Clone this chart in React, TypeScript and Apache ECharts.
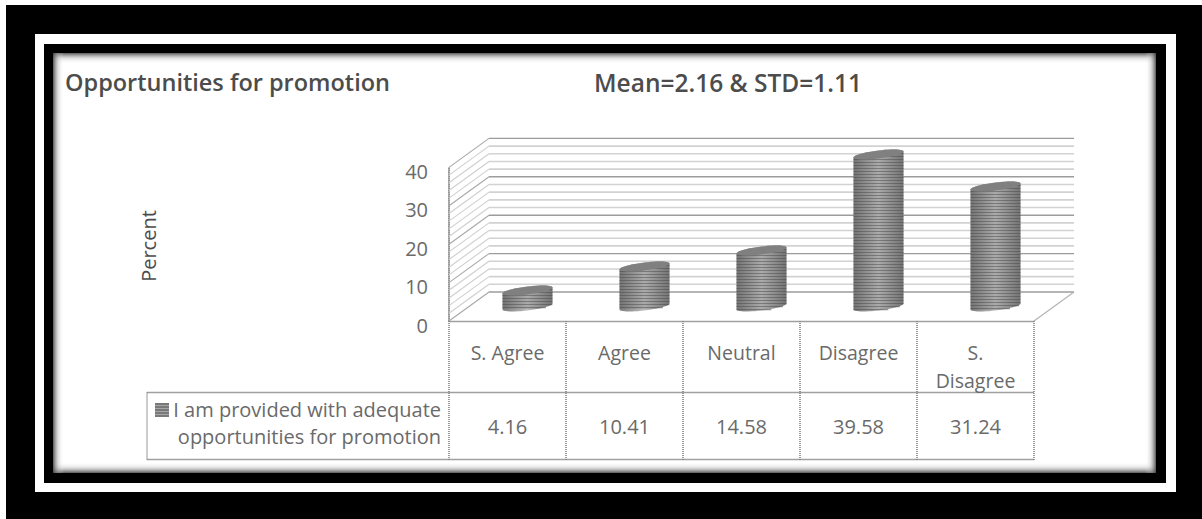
import React, { useEffect, useRef } from "react";
import * as echarts from "echarts";

const categories = ["S. Agree", "Agree", "Neutral", "Disagree", "S.\nDisagree"];
const percentValues = [4.16, 10.41, 14.58, 39.58, 31.24];
const tableLabels = ["4.16", "10.41", "14.58", "39.58", "31.24"];
const wallTicks = [0, 2, 4, 6, 8, 10, 12, 14, 16, 18, 20, 22, 24, 26, 28, 30, 32, 34, 36, 38, 40];
const seriesName = "I am provided with adequate opportunities for promotion";
const legendLines = ["I am provided with adequate", "opportunities for promotion"];
const chartTitle = "Opportunities for promotion";
const statsTitle = "Mean=2.16 & STD=1.11";
const axisTitle = "Percent";

const FONT = "'Open Sans', Lato, sans-serif";
const TEXT = "#6a6a6a";
const DEPTH_X = 20;
const DEPTH_Y = 14.5;

// Wall and floor of the pseudo-3D box, one item per tick of the value axis.
function renderWall(params: any, api: any) {
  const v = api.value(0);
  const y = api.coord([0, v])[1];
  const cs = params.coordSys;
  const left = cs.x;
  const right = cs.x + cs.width;
  const major = v % 10 === 0;
  const color = major ? "#9c9c9c" : "#d2d2d2";
  const lineWidth = major ? 1.4 : 1.6;
  const children: any[] = [
    {
      type: "line",
      shape: { x1: left - DEPTH_X, y1: y + DEPTH_Y, x2: left + DEPTH_X, y2: y - DEPTH_Y },
      style: { stroke: major ? "#a8a8a8" : "#cfcfcf", lineWidth: 1.1 },
    },
    {
      type: "line",
      shape: { x1: left + DEPTH_X, y1: y - DEPTH_Y, x2: right + DEPTH_X, y2: y - DEPTH_Y },
      style: { stroke: color, lineWidth },
    },
  ];
  if (v === 0) {
    children.push({
      type: "line",
      shape: { x1: right - DEPTH_X, y1: y + DEPTH_Y, x2: right + DEPTH_X, y2: y - DEPTH_Y },
      style: { stroke: "#b4b4b4", lineWidth: 1.2 },
    });
  }
  return { type: "group", children };
}

// Tilted ellipse outline used for the cylinder caps.
function capPoint(cx: number, cy: number, t: number, rx: number) {
  return [cx + rx * Math.cos(t), cy - 3 * Math.cos(t) - 4 * Math.sin(t)];
}

function renderCylinder(_params: any, api: any) {
  const base = api.coord([api.value(0), 0]);
  const top = api.coord([api.value(0), api.value(1)]);
  const cx = base[0];
  const rx = 25;
  const outline: number[][] = [];
  const steps = 24;
  // Upper rim from the right edge round to the left, then lower rim back again.
  for (let i = 0; i <= steps; i++) outline.push(capPoint(cx, top[1], (Math.PI * i) / steps, rx));
  for (let i = 0; i <= steps; i++) outline.push(capPoint(cx, base[1], Math.PI + (Math.PI * i) / steps, rx));
  const rim: number[][] = [];
  for (let i = 0; i <= steps * 2; i++) rim.push(capPoint(cx, top[1], (Math.PI * i) / steps, rx));

  const children: any[] = [
    {
      type: "polygon",
      shape: { points: outline },
      style: {
        fill: new echarts.graphic.LinearGradient(0, 0, 1, 0, [
          { offset: 0, color: "#7c7c7c" },
          { offset: 0.5, color: "#bcbcbc" },
          { offset: 1, color: "#7c7c7c" },
        ]),
      },
    },
  ];
  // Horizontal hatching of the pattern fill, clipped to the silhouette by hand.
  const firstY = Math.ceil(top[1] - 5);
  for (let y = firstY; y <= base[1] + 3; y += 3) {
    const xs = outline
      .map((p, i) => {
        const q = outline[(i + 1) % outline.length];
        if ((p[1] <= y && q[1] > y) || (q[1] <= y && p[1] > y)) {
          return p[0] + ((y - p[1]) / (q[1] - p[1])) * (q[0] - p[0]);
        }
        return null;
      })
      .filter((x) => x !== null) as number[];
    if (xs.length < 2) continue;
    children.push({
      type: "line",
      shape: { x1: Math.min(...xs), y1: y + 0.5, x2: Math.max(...xs), y2: y + 0.5 },
      style: { stroke: "rgba(70,70,70,0.55)", lineWidth: 1.4 },
    });
  }
  children.push({
    type: "polygon",
    shape: { points: rim },
    style: { fill: "#808080" },
  });
  return { type: "group", children };
}

// Soft shaded rim on the inside of the panel.
function shadeGradient(x1: number, y1: number, x2: number, y2: number) {
  return new echarts.graphic.LinearGradient(x1, y1, x2, y2, [
    { offset: 0, color: "rgba(60,60,60,0.85)" },
    { offset: 0.5, color: "rgba(170,170,170,0.35)" },
    { offset: 1, color: "rgba(255,255,255,0)" },
  ]);
}

function frameElements() {
  const rect = (x: number, y: number, width: number, height: number, fill: any) => ({
    type: "rect",
    silent: true,
    shape: { x, y, width, height },
    style: { fill },
  });
  return [
    rect(6, 5, 1196, 514, "#000000"),
    rect(35, 34, 1141, 458, "#ffffff"),
    rect(44, 44, 1122, 439, "#000000"),
    rect(53, 53, 1103, 420, "#ffffff"),
    rect(53, 53, 1103, 11, shadeGradient(0, 0, 0, 1)),
    rect(53, 462, 1103, 11, shadeGradient(0, 1, 0, 0)),
    rect(53, 53, 11, 420, shadeGradient(0, 0, 1, 0)),
    rect(1145, 53, 11, 420, shadeGradient(1, 0, 0, 0)),
  ];
}

function tableElements() {
  const line = (x1: number, y1: number, x2: number, y2: number, dotted = false, stroke = "#a0a0a0") => ({
    type: "line",
    silent: true,
    shape: { x1, y1, x2, y2 },
    style: { stroke: dotted ? "#808080" : stroke, lineWidth: dotted ? 1.6 : 1.4, lineDash: dotted ? [1, 1] : undefined },
  });
  const swatch: any[] = [{ type: "rect", silent: true, shape: { x: 155, y: 403, width: 14, height: 14 }, style: { fill: "#a6a6a6" } }];
  [0, 1, 2, 3, 4].forEach((i) => swatch.push(line(155, 404 + i * 3, 169, 404 + i * 3, false, "#666666")));
  return [
    line(147, 392.5, 1034, 392.5),
    line(147, 459.5, 1034, 459.5),
    line(147, 392.5, 147, 459.5, true),
    ...swatch,
    ...legendLines.map((text, i) => ({
      type: "text",
      silent: true,
      style: { x: 441, y: 409 + i * 27.5, text, font: `20px ${FONT}`, fill: TEXT, textAlign: "right", textVerticalAlign: "middle" },
    })),
  ];
}

function headingElements() {
  const heading = (x: number, text: string, size: number) => ({
    type: "text",
    silent: true,
    style: { x, y: 82, text, font: `600 ${size}px ${FONT}`, fill: "#4c4c4c", textVerticalAlign: "middle" },
  });
  return [
    heading(65, chartTitle, 23.5),
    heading(594, statsTitle, 24.5),
    {
      type: "text",
      silent: true,
      x: 148,
      y: 246,
      rotation: Math.PI / 2,
      style: { text: axisTitle, font: `20px ${FONT}`, fill: "#4c4c4c", textAlign: "center", textVerticalAlign: "middle" },
    },
  ];
}

export default function App() {
  const ref = useRef<HTMLDivElement>(null);

  useEffect(() => {
    document.body.style.margin = "0";
    const chart = echarts.init(ref.current!, undefined, { renderer: "svg" });
    chart.setOption({
      animation: false,
      backgroundColor: "#ffffff",
      textStyle: { fontFamily: FONT },
      grid: [
        // Plane through the middle of the box, on which the cylinders stand.
        { left: 469, width: 585, top: 152.9, height: 153.6 },
        // Front plane: axis labels and the data table hang off this one.
        { left: 449, width: 585, top: 167.4, height: 153.6 },
      ],
      xAxis: [
        { type: "category", gridIndex: 0, data: categories, show: false },
        {
          type: "category",
          gridIndex: 1,
          data: categories,
          axisLine: { show: true, lineStyle: { color: "#a0a0a0", width: 1.4 } },
          axisTick: { show: true, alignWithLabel: false, interval: 0, length: 139, lineStyle: { color: "#808080", type: [1, 1], width: 1.6 } },
          axisLabel: { color: TEXT, fontSize: 19.5, fontFamily: FONT, margin: 17, lineHeight: 28, interval: 0, verticalAlign: "top" },
        },
        {
          type: "category",
          gridIndex: 1,
          position: "bottom",
          offset: 71,
          data: tableLabels,
          axisLine: { show: false },
          axisTick: { show: false },
          axisLabel: { color: TEXT, fontSize: 20, fontFamily: FONT, margin: 24, interval: 0 },
        },
      ],
      yAxis: [
        { type: "value", gridIndex: 0, min: 0, max: 40, show: false },
        {
          type: "value",
          gridIndex: 1,
          min: 0,
          max: 40,
          interval: 10,
          axisLine: { show: true, onZero: false, lineStyle: { color: "#808080", type: [1, 1], width: 1.6 } },
          axisTick: { show: false },
          splitLine: { show: false },
          axisLabel: { color: TEXT, fontSize: 20, fontFamily: FONT, margin: 21, verticalAlign: "top", lineHeight: 8 },
        },
      ],
      series: [
        {
          type: "custom",
          name: "wall",
          xAxisIndex: 0,
          yAxisIndex: 0,
          silent: true,
          clip: false,
          renderItem: renderWall,
          data: wallTicks.map((v) => [v]),
          encode: { y: 0 },
          z: 1,
        },
        {
          type: "custom",
          name: seriesName,
          xAxisIndex: 0,
          yAxisIndex: 0,
          silent: true,
          clip: false,
          renderItem: renderCylinder,
          data: percentValues.map((v, i) => [i, v]),
          encode: { x: 0, y: 1 },
          z: 3,
        },
      ],
      graphic: [
        { type: "group", z: -10, silent: true, children: frameElements() },
        { type: "group", z: 5, silent: true, children: [...tableElements(), ...headingElements()] },
      ],
    });
    return () => chart.dispose();
  }, []);

  return <div ref={ref} style={{ width: 1202, height: 519 }} />;
}
